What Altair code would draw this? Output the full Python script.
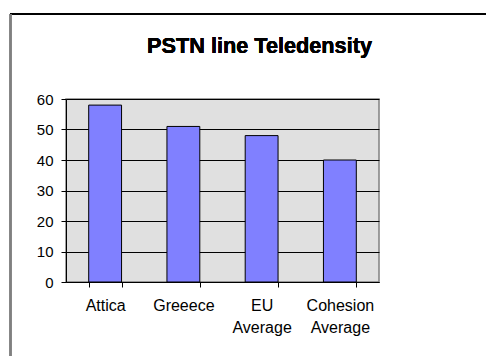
import altair as alt
import pandas as pd

# Fixed-line telephone density, lines per 100 inhabitants
regions = ["Attica", "Greeece", "EU Average", "Cohesion Average"]
teledensity = [58, 51, 48, 40]
chart_title = "PSTN line Teledensity"

df = pd.DataFrame({"region": regions, "value": teledensity})

FONT = "Liberation Sans"

bars = alt.Chart(df).mark_bar(
    color="#8080FF", stroke="black", strokeWidth=1
).encode(
    x=alt.X(
        "region:N",
        sort=regions,
        title=None,
        scale=alt.Scale(paddingInner=0.58, paddingOuter=0.29),
        axis=alt.Axis(
            labelAngle=0,
            labelExpr="split(datum.label, ' ')",
            labelFont=FONT,
            labelFontSize=16,
            labelColor="black",
            labelPadding=10,
            labelLineHeight=22,
            labelBaseline="top",
            tickBand="extent",
            tickSize=5,
            tickColor="black",
            domainColor="black",
            grid=False,
        ),
    ),
    y=alt.Y(
        "value:Q",
        title=None,
        scale=alt.Scale(domain=[0, 60], nice=False),
        axis=alt.Axis(
            values=[0, 10, 20, 30, 40, 50, 60],
            labelFont=FONT,
            labelFontSize=15,
            labelColor="black",
            labelPadding=8,
            tickSize=5,
            tickColor="black",
            domainColor="black",
            gridColor="black",
            gridOpacity=1,
            gridWidth=1,
        ),
    ),
)

# Chart heading, centred over the whole chart area
heading = alt.Chart(df).mark_text(
    font=FONT, fontSize=21.7, fontWeight="bold", color="black",
    align="center", baseline="alphabetic"
).encode(
    x=alt.value(193.5), y=alt.value(-46.5), text=alt.value(chart_title)
)

# Chart-area frame: black top edge and grey left edge
top_edge = alt.Chart(df).mark_rule(color="black", strokeWidth=1.5).encode(
    x=alt.value(-56), x2=alt.value(430), y=alt.value(-85)
)
left_edge = alt.Chart(df).mark_rule(color="#808080", strokeWidth=2).encode(
    x=alt.value(-55.5), y=alt.value(-85), y2=alt.value(270)
)

chart = alt.layer(bars, heading, top_edge, left_edge).properties(
    width=313,
    height=183,
    autosize=alt.AutoSizeParams(type="none"),
    padding={"left": 66, "top": 99, "right": 107, "bottom": 74},
    background="white",
).configure_view(
    fill="#E0E0E0", stroke="#808080", strokeWidth=1.5
)

chart.save("out.html", embed_options={"renderer": "svg", "actions": False})
